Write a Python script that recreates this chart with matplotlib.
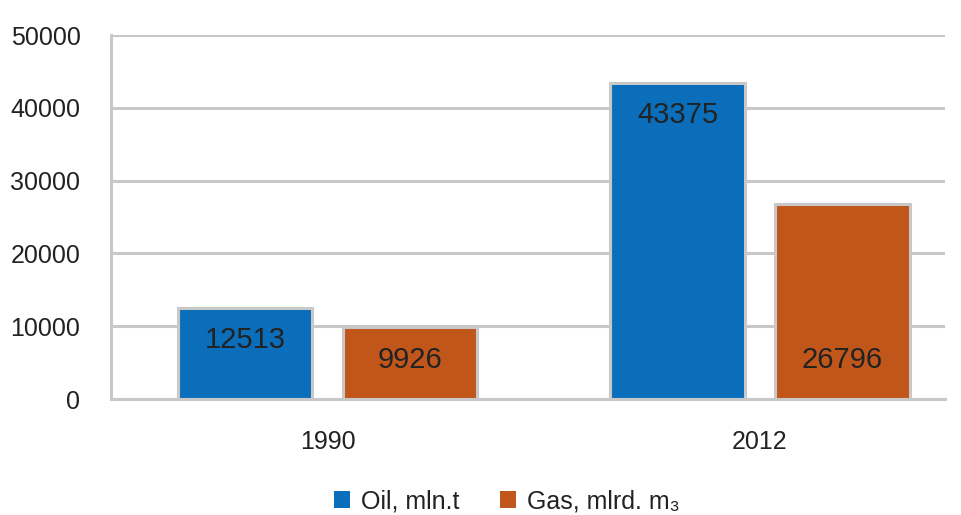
import numpy as np
import matplotlib
matplotlib.use("Agg")
import matplotlib.pyplot as plt

plt.rcParams['font.family'] = ['Liberation Sans', 'DejaVu Sans']

years = ["1990", "2012"]
oil = [12513, 43375]
gas = [9926, 26796]
series_names = ["Oil, mln.t", "Gas, mlrd. m₃"]
yticks = [0, 10000, 20000, 30000, 40000, 50000]
# where the numbers sit inside the bars (data units)
oil_label_y = [8100, 39000]
gas_label_y = [5350, 5350]

blue = "#0A6EBA"
orange = "#C0561A"
edge = "#C8C8C8"
txt = "#222222"

fig = plt.figure(figsize=(9.62, 5.15), dpi=100)
ax = fig.add_axes([0.1154, 0.2252, 0.867, 0.7068])

x = np.arange(len(years))
w = 0.312
off = 0.1908

ax.yaxis.grid(True, color=edge, linewidth=2.2)
ax.set_axisbelow(True)
b1 = ax.bar(x - off, oil, w, color=blue, edgecolor=edge, linewidth=2.2, label=series_names[0])
b2 = ax.bar(x + off, gas, w, color=orange, edgecolor=edge, linewidth=2.2, label=series_names[1])

for i in range(len(years)):
    ax.text(x[i] - off, oil_label_y[i], str(oil[i]), ha="center", va="center", fontsize=21, color=txt)
    ax.text(x[i] + off, gas_label_y[i], str(gas[i]), ha="center", va="center", fontsize=21, color=txt)

ax.set_xlim(-0.5006, 1.428)
ax.set_ylim(0, 50000)
ax.set_yticks(yticks)
ax.set_xticks(x)
ax.set_xticklabels(years)
ax.tick_params(axis="both", length=0, labelsize=18, colors=txt)
ax.tick_params(axis="y", pad=22)
ax.tick_params(axis="x", pad=22)
for s in ["top", "right"]:
    ax.spines[s].set_visible(False)
for s in ["left", "bottom"]:
    ax.spines[s].set_color(edge)
    ax.spines[s].set_linewidth(2.2)

leg = fig.legend(handles=[b1, b2], loc="center", bbox_to_anchor=(0.527, 0.027), ncol=2,
                 frameon=False, fontsize=18, handlelength=0.65, handleheight=0.65,
                 handletextpad=0.45, columnspacing=1.6, labelcolor=txt)
for h in leg.legend_handles:
    h.set_edgecolor("none")

fig.savefig("out.png", dpi=100)
